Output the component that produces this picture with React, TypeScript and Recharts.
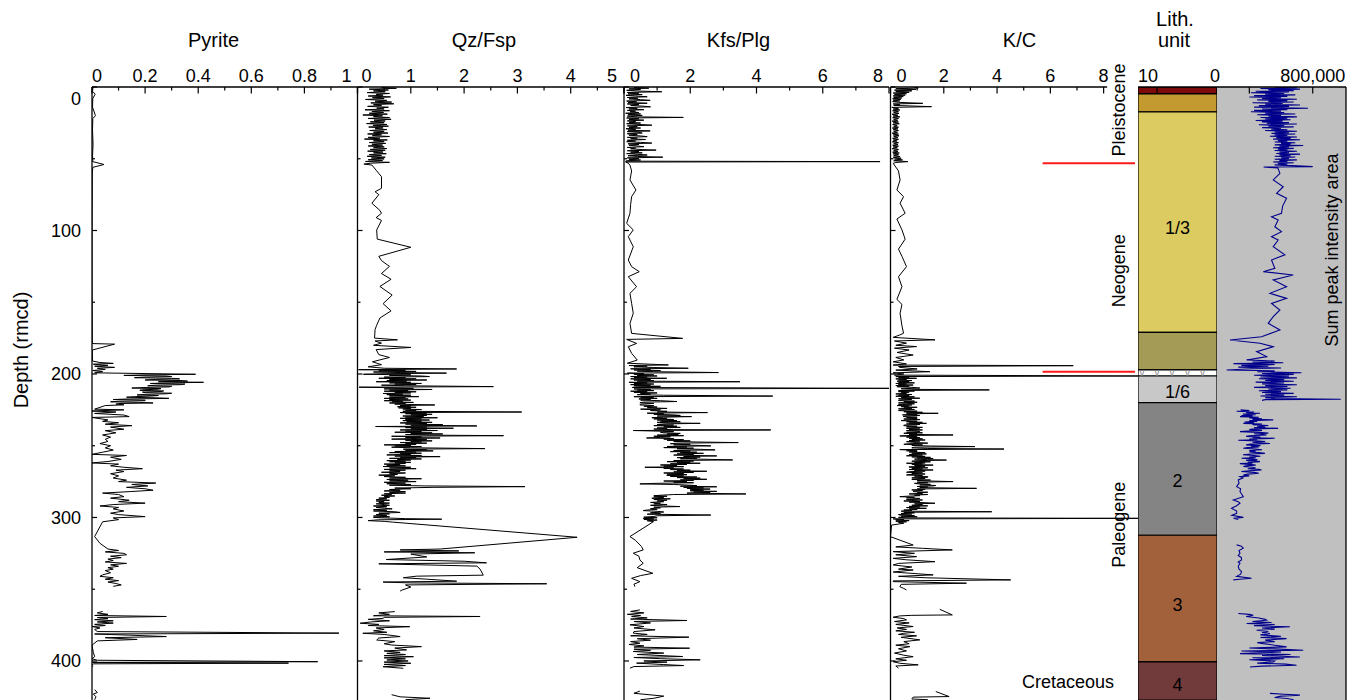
import React from 'react';
import { LineChart, Line, XAxis, YAxis, ReferenceArea, ReferenceLine, ReferenceDot } from 'recharts';

type Pair = [number, number] | null;

const CHART_W = 1360;
const CHART_H = 700;
const PLOT_TOP = 87;
const AXIS_H = 30;
const DEPTH_DOMAIN: [number, number] = [0, 427.2];
const FONT = '"Liberation Sans", Arial, Helvetica, sans-serif';

// ---------- axes ----------
const depthTicks = [0, 50, 100, 150, 200, 250, 300, 350, 400];
const depthTickLabels = ['0', '', '100', '', '200', '', '300', '', '400'];

const pyriteTicks = [0, 0.1, 0.2, 0.3, 0.4, 0.5, 0.6, 0.7, 0.8, 0.9, 1];
const pyriteTickLabels = ['0', '', '0.2', '', '0.4', '', '0.6', '', '0.8', '', '1'];
const qzTicks = [0, 0.5, 1, 1.5, 2, 2.5, 3, 3.5, 4, 4.5, 5];
const qzTickLabels = ['0', '', '1', '', '2', '', '3', '', '4', '', '5'];
const kfsTicks = [0, 1, 2, 3, 4, 5, 6, 7, 8];
const kfsTickLabels = ['0', '', '2', '', '4', '', '6', '', '8'];
const kcTicks = [0, 1, 2, 3, 4, 5, 6, 7, 8];
const kcTickLabels = ['0', '', '2', '', '4', '', '6', '', '8'];
const lithTicks = [10, 0];
const lithTickLabels = ['10', '0'];
const sumTicks = [400000, 800000];
const sumTickLabels = ['', '800,000'];

// ---------- series (depth rmcd, value); null = gap in the record ----------
const pyrite: Pair[] = [
  [0, 0.004], [3, 0.002], [5, 0.012], [8, 0.003], [14, 0.002], [20, 0.013], [22, 0.003], [30, 0.002], [40, 0.004], [48, 0.002], [52, 0.003], [54, 0.045], [56, 0.003], [60, 0.001], [100, 0], [140, 0], [176, 0.001],
  [178.8, 0.001], [179.2, 0.085], [183.3, 0.001], [191, 0.002],
  [192, 0.03], [192.6, 0.08], [193.2, 0.005], [194, 0.06], [194.6, 0.01], [195.4, 0.085], [196, 0.02], [196.8, 0.05], [197.6, 0.003], [198.4, 0.04], [199.2, 0.01],
  [200.2, 0.39], [200.6, 0.2], [201, 0.12], [201.4, 0.28], [201.8, 0.3], [202.2, 0.2], [202.6, 0.16], [203, 0.3], [203.4, 0.33], [203.8, 0.24], [204.2, 0.2], [204.6, 0.34], [205, 0.36], [205.4, 0.25], [205.8, 0.42], [206.2, 0.3], [206.6, 0.22], [207, 0.35], [207.4, 0.34], [207.8, 0.24], [208.2, 0.21], [208.6, 0.3], [209, 0.29], [209.4, 0.2], [209.8, 0.15], [210.2, 0.26], [210.6, 0.25], [211, 0.19], [211.4, 0.18], [211.8, 0.27], [212.2, 0.26], [212.6, 0.19], [213, 0.2], [213.4, 0.3], [213.8, 0.28], [214.2, 0.2], [214.6, 0.17], [215, 0.25], [215.4, 0.22], [215.8, 0.16], [216.2, 0.13], [216.6, 0.24], [217, 0.29], [217.4, 0.14], [217.8, 0.08], [218.2, 0.2], [218.6, 0.2], [219, 0.1], [219.4, 0.07], [219.8, 0.18], [220.2, 0.23], [220.6, 0.1], [221, 0.09], [221.5, 0.12], [222, 0.05],
  [224.5, 0.01], [225, 0.12], [225.8, 0.0], [226.5, 0.09], [227.5, 0.01], [228.6, 0.12], [229.7, 0.14], [230.3, 0.0],
  [232, 0.06], [233, 0.04], [234, 0.1], [235, 0.05], [236, 0.15], [237, 0.07], [238.5, 0.12], [239.5, 0.05], [241, 0.09], [242.5, 0.04], [244, 0.07], [245.5, 0.05], [247, 0.06], [248.5, 0.03], [250, 0.07], [251.5, 0.05], [253, 0.08], [254.5, 0.04],
  [256, 0.0], [256.8, 0.13], [258, 0.07], [259.5, 0.11], [261, 0.06], [262, 0.0], [262.8, 0.1], [264, 0.07], [265, 0.12], [266, 0.19], [267, 0.09], [268, 0.12], [269.5, 0.07], [271, 0.1], [272.5, 0.08], [274, 0.13], [275, 0.1], [276, 0.24], [277, 0.15], [278, 0.21], [279, 0.13], [280, 0.2], [281, 0.23], [282, 0.14], [283, 0.04], [284, 0.1], [285.5, 0.12], [286.5, 0.07], [288, 0.14], [289, 0.1], [290, 0.2], [291, 0.08], [292, 0.03], [293, 0.1], [294, 0.08], [295.5, 0.12], [297, 0.07], [298, 0.1], [299.4, 0.2], [300.3, 0.08], [301.5, 0.1], [303, 0.04],
  [313.3, 0.01], [318, 0.03], [322, 0.06], [323, 0.1], [324, 0.05], [325, 0.12], [326, 0.13], [327, 0.07], [328, 0.11], [329, 0.06], [330, 0.08], [331, 0.05], [332, 0.13], [333, 0.07], [334, 0.1], [335, 0.06], [336, 0.08], [337, 0.05], [338.5, 0.07], [340, 0.04], [341, 0.03], [342, 0.08], [343, 0.05], [344, 0.1], [345, 0.06], [346, 0.09], [347, 0.11], [348, 0.08],
  null,
  [365.5, 0.04], [366.5, 0.02], [367.5, 0.06], [368.3, 0.01], [369, 0.28], [369.7, 0.02], [370.5, 0.06], [371.2, 0.01], [372, 0.08], [372.8, 0.02], [373.6, 0.08], [374.5, 0.01], [375.3, 0.05], [376, 0.0], [377, 0.03], [378, 0.01], [379.5, 0.02], [380.6, 0.93], [381.2, 0.01], [382, 0.14], [383, 0.28], [383.8, 0.05], [385, 0.17], [386, 0.02], [389, 0.0], [391, 0.002], [394, 0.005], [397, 0.01], [398.5, 0.0], [399.5, 0.02], [400.5, 0.85], [401, 0.0], [401.5, 0.74], [402, 0.005], [403, 0.0], [404, 0.003],
  null,
  [420, 0.01], [422, 0.02], [423, 0.005], [425, 0.015], [427, 0.01],
];

const qzFsp: Pair[] = [
  [0.3, 0.45], [0.9, 0.73], [1.5, 0.22], [2.1, 0.58], [2.7, 0.3], [3.3, 0.52], [3.9, 0.18], [4.5, 0.6], [5.1, 0.35], [5.7, 0.48], [6.3, 0.2], [6.9, 0.62], [7.5, 0.28], [8.1, 0.5], [8.7, 0.15], [9.3, 0.55], [9.9, 0.33], [10.5, 0.64], [11.1, 0.25], [11.7, 0.68], [12.3, 0.3], [12.9, 0.45], [13.5, 0.19], [14.1, 0.58], [14.7, 0.36], [15.3, 0.5], [15.9, 0.14], [16.5, 0.6], [17.1, 0.27], [17.7, 0.49], [18.3, 0.22], [18.9, 0.56], [19.5, 0.1], [20.1, 0.47], [20.7, 0.3], [21.3, 0.6], [21.9, 0.2], [22.5, 0.63], [23.1, 0.31], [23.7, 0.52], [24.3, 0.24], [24.9, 0.5], [25.5, 0.17], [26.1, 0.55], [26.7, 0.29], [27.3, 0.58], [27.9, 0.21], [28.5, 0.48], [29.1, 0.33], [29.7, 0.55], [30.3, 0.23], [30.9, 0.5], [31.5, 0.3], [32.1, 0.57], [32.7, 0.19], [33.3, 0.45], [33.9, 0.28], [34.5, 0.6], [35.1, 0.2], [35.7, 0.42], [36.3, 0.13], [36.9, 0.56], [37.5, 0.3], [38.1, 0.5], [38.7, 0.22], [39.3, 0.53], [39.9, 0.27], [40.5, 0.47], [41.1, 0.2], [41.7, 0.5], [42.3, 0.3], [42.9, 0.55], [43.5, 0.24], [44.1, 0.52], [44.7, 0.19], [45.3, 0.48], [45.9, 0.3], [46.5, 0.54], [47.1, 0.22], [47.7, 0.45], [48.3, 0.18], [48.9, 0.52], [49.5, 0.26], [50.1, 0.5], [50.7, 0.2], [51.3, 0.47], [51.9, 0.15], [52.5, 0.6], [53.1, 0.25], [53.7, 0.12], [54.4, 0.27],
  [58, 0.35], [62.5, 0.45], [70.6, 0.45], [73, 0.33], [75, 0.4], [81, 0.27], [86, 0.42], [88, 0.45], [91, 0.35], [93, 0.45], [99.6, 0.36], [106, 0.37], [111.7, 1.0], [118, 0.4], [121, 0.45], [125, 0.6], [130, 0.45], [134, 0.63], [139, 0.42], [145, 0.65], [151, 0.48], [156, 0.63], [161, 0.42], [166, 0.36], [169, 0.33], [175, 0.32], [176.2, 0.75], [177, 0.33], [178.5, 0.45], [180, 0.3], [181.5, 1.0], [183, 0.35], [186.5, 0.4], [188.5, 0.6], [191.5, 0.28], [193.5, 0.45], [195, 0.2],
  [196, 0.5], [196.5, 1.86], [197, 0.02], [197.4, 0.9], [197.8, 0.4], [198.2, 1.1], [198.6, 0.3], [199, 0.8], [199.4, 1.67], [199.8, 0.5], [200.2, 0.11], [200.6, 1.0], [201, 0.6], [201.4, 1.2], [201.8, 1.35], [202.2, 0.5], [202.6, 0.9], [203, 0.4], [203.4, 1.1], [203.8, 0.6], [204.2, 1.3], [204.6, 0.55], [205, 0.92], [205.4, 0.35], [205.8, 1.0], [206.2, 0.6], [206.6, 1.2], [207, 0.7], [207.4, 1.1], [207.8, 0.45], [208.2, 0.9], [208.8, 2.55], [209.2, 0.03], [209.6, 0.7], [210, 1.05], [210.4, 0.5], [210.8, 1.4], [211.2, 0.6], [211.6, 0.95], [212, 0.5], [212.4, 1.1], [212.8, 0.7], [213.2, 1.0], [213.6, 0.48], [214, 0.85], [214.4, 0.55], [214.8, 1.0], [215.2, 0.6], [215.8, 1.15], [216.2, 0.6], [216.6, 0.9], [217, 0.5], [217.4, 0.95], [217.8, 0.6], [218.2, 1.0], [218.6, 0.5], [219, 0.85], [219.4, 0.65], [219.8, 1.05], [220.2, 0.6], [220.6, 0.9], [221, 0.7], [221.6, 1.45], [222, 0.8], [222.4, 1.0], [222.8, 0.75], [223.2, 1.1], [223.6, 0.77], [224, 1.0], [224.4, 0.85], [224.8, 1.2], [225.2, 0.9], [225.6, 1.1], [226, 0.85], [226.5, 3.08], [226.9, 0.8], [227.3, 1.3], [227.7, 0.9], [228.1, 1.4], [228.5, 1.0], [228.9, 1.3], [229.3, 0.85], [229.7, 1.24], [230.1, 0.9], [230.5, 1.5], [230.9, 0.8], [231.3, 1.2], [231.7, 0.9], [232.1, 1.35], [232.5, 0.85], [232.9, 1.2], [233.3, 0.92], [233.7, 1.4], [234.1, 0.8], [234.5, 1.3], [234.9, 0.9], [235.3, 1.6], [235.7, 1.0], [236.2, 2.24], [236.6, 0.34], [237, 1.3], [237.4, 0.9], [237.8, 1.8], [238.2, 1.0], [238.6, 1.3], [239, 0.8], [239.4, 1.5], [239.8, 0.9], [240.2, 1.2], [240.6, 0.7], [241, 1.4], [241.4, 1.0], [241.8, 1.6], [242.2, 0.9], [242.6, 1.3], [243, 2.74], [243.4, 0.64], [243.8, 1.2], [244.2, 0.9], [244.6, 1.55], [245, 1.0], [245.4, 0.64], [245.8, 1.3], [246.2, 0.9], [246.6, 1.4], [247, 1.0], [247.4, 1.2], [247.8, 0.8], [248.2, 1.3], [248.6, 0.9], [249, 1.1], [249.4, 0.5], [249.8, 1.0], [250.2, 0.7], [250.6, 1.2], [251, 0.64], [251.4, 1.0], [252, 2.39], [252.4, 0.86], [252.8, 1.3], [253.2, 0.9], [253.6, 1.42], [254, 0.7], [254.4, 1.1], [254.8, 0.6], [255.2, 1.2], [255.6, 0.8], [256, 1.0], [256.4, 0.55], [256.8, 1.2], [257.2, 0.7], [257.6, 1.55], [258, 0.8], [258.4, 1.1], [258.8, 0.6], [259.2, 1.2], [259.6, 0.75], [260, 1.0], [260.4, 0.55], [260.8, 0.9], [261.2, 0.6], [261.6, 1.0], [262, 0.7], [262.4, 0.9], [262.8, 0.5], [263.2, 0.8], [263.6, 0.55], [264, 0.9], [264.5, 0.48], [265, 1.0], [265.5, 0.6], [266, 1.1], [266.5, 0.5], [267, 0.9], [267.5, 0.6], [268, 0.8], [268.5, 0.45], [269, 0.9], [269.5, 0.6], [270, 0.75], [270.5, 0.4], [271, 0.7], [271.5, 0.5], [272, 0.9], [272.5, 0.6], [273, 1.2], [273.5, 0.55], [274, 0.95], [274.5, 0.6], [275, 1.1], [275.5, 0.5], [276, 0.9], [276.5, 0.55], [277, 1.0], [277.5, 0.6], [278, 1.25], [278.5, 3.14], [279, 1.42], [279.5, 0.7], [280, 1.0], [280.5, 0.6], [281, 0.8], [281.5, 0.5], [282, 0.9], [282.5, 0.6], [283, 0.9], [283.5, 0.5], [284, 0.64], [284.5, 0.45], [285, 0.7], [285.5, 0.5], [286, 0.6], [286.5, 0.4], [287, 0.55], [287.5, 0.35], [288, 0.6], [288.5, 0.35], [289, 0.5], [289.5, 0.4], [290, 0.6], [290.5, 0.35], [291, 0.5], [291.5, 0.6], [292, 0.3], [292.5, 0.55], [293, 0.35], [293.5, 0.5], [294, 0.65], [294.5, 0.3], [295, 0.55], [295.5, 0.3], [296, 0.7], [296.5, 0.8], [297, 0.4], [297.5, 0.6], [298, 0.35], [298.5, 0.55], [299, 0.3], [299.5, 0.6], [300, 0.3], [300.3, 0.5], [300.8, 0.9], [301.2, 1.58], [301.6, 0.4], [302.2, 0.2], [302.7, 0.5], [303.2, 0.65],
  [313.8, 4.12], [322, 1.55], [322.6, 0.8], [323.3, 1.9], [324, 0.5], [324.6, 2.2], [325.5, 1.0], [327.5, 1.3], [329.3, 0.54], [330.5, 2.0], [331.6, 2.42], [332.3, 0.4], [333.9, 2.24], [336, 2.3], [340.2, 2.36], [340.9, 1.11], [342, 0.86], [343, 1.3], [344.4, 1.86], [345, 0.48], [345.6, 1.0], [346.2, 3.55], [347, 0.9], [348.5, 1.0], [350.5, 0.84], [351.3, 0.8],
  null,
  [365.6, 0.7], [366.5, 0.4], [367.5, 0.6], [368.5, 0.3], [369, 2.3], [369.6, 0.5], [370.3, 0.48], [371, 0.2], [372, 0.6], [372.8, 0.25], [373.7, 0.05], [374.5, 0.4], [375.3, 0.2], [376.1, 0.98], [377, 0.35], [378, 0.5], [379, 0.3], [380, 0.55], [380.7, 0.1], [381.5, 0.5], [383, 0.8], [384, 0.4], [385.4, 0.36], [386.5, 0.7], [388, 0.5], [388.9, 0.64], [390, 1.2], [391, 0.7], [392.3, 0.92], [393, 0.5], [394, 0.8], [394.7, 0.55], [395.5, 0.9], [396.3, 0.5], [397, 1.05], [397.8, 0.5], [398.5, 0.9], [399.3, 0.55], [400, 0.95], [400.8, 0.5], [401.6, 1.0], [402.4, 0.5], [403.2, 0.9], [404, 0.48], [405.1, 0.86],
  null,
  [423.5, 0.64], [425, 0.8], [426, 1.36], [427, 0.9],
];

const kfsPlg: Pair[] = [
  [0.3, 0.3], [0.8, 0.75], [1.3, 0.15], [1.8, 0.5], [2.3, 0.08], [2.8, 0.4], [3.3, 1.14], [3.8, 0.1], [4.3, 0.45], [4.8, 0.12], [5.3, 0.55], [5.8, 0.06], [6.3, 0.35], [6.8, 0.7], [7.3, 0.1], [7.8, 0.42], [8.3, 0.15], [8.8, 0.5], [9.3, 0.79], [9.8, 0.08], [10.3, 0.38], [10.8, 0.12], [11.3, 0.7], [11.8, 0.1], [12.3, 0.45], [12.8, 0.2], [13.3, 0.55], [13.8, 0.8], [14.3, 0.06], [14.8, 0.4], [15.3, 0.15], [15.8, 0.6], [16.3, 0.1], [16.8, 0.35], [17.3, 0.18], [17.8, 0.45], [18.3, 0.05], [18.8, 0.5], [19.3, 0.12], [19.8, 0.55], [20.3, 0.1], [20.8, 0.4], [21.2, 1.79], [21.6, 0.08], [22.1, 0.45], [22.6, 0.15], [23.1, 0.6], [23.6, 0.1], [24.1, 0.35], [24.6, 0.15], [25.1, 0.5], [25.6, 0.08], [26.1, 0.45], [26.6, 0.84], [27.1, 0.1], [27.6, 0.4], [28.1, 0.15], [28.6, 0.5], [29.1, 0.06], [29.6, 0.35], [30.1, 0.12], [30.6, 0.79], [31.1, 0.1], [31.6, 0.45], [32.1, 0.55], [32.6, 0.1], [33.1, 0.4], [33.6, 0.15], [34.1, 0.5], [34.6, 0.7], [35.1, 0.1], [35.6, 0.4], [36.1, 0.2], [36.6, 0.65], [37.1, 0.1], [37.6, 0.35], [38.1, 0.08], [38.6, 0.5], [39.1, 0.84], [39.6, 0.12], [40.1, 0.45], [40.6, 0.15], [41.1, 0.4], [41.6, 0.6], [42.1, 0.1], [42.6, 0.35], [43.1, 0.2], [43.6, 0.55], [44, 0.97], [44.4, 0.1], [44.9, 0.45], [45.4, 0.2], [45.9, 0.55], [46.4, 0.08], [46.9, 0.4], [47.4, 0.7], [47.9, 0.12], [48.4, 0.4], [48.9, 1.17], [49.4, 0.1], [49.9, 0.45], [50.4, 0.15], [50.9, 0.5], [51.4, 0.1], [51.7, 0.05], [52, 7.73], [52.3, 0.05], [53, 0.12], [54.4, 0.18],
  [58.5, 0.23], [64.8, 0.18], [71.8, 0.36], [76.4, 0.23], [82, 0.2], [88, 0.18], [95, 0.08], [99.6, 0.28], [104.3, 0.13], [111.3, 0.28], [120.6, 0.13], [125.2, 0.23], [128.7, 0.46], [132.2, 0.13], [139.2, 0.38], [143.8, 0.18], [150.8, 0.23], [157.7, 0.28], [164.7, 0.18], [171.7, 0.23], [175.2, 1.77], [175.9, 0.08], [178.7, 0.38], [181, 0.13], [185.6, 0.23], [190.3, 0.4],
  [192.5, 0.1], [193, 0.6], [193.7, 1.34], [194.1, 0.15], [194.5, 0.7], [195, 0.3], [195.5, 0.9], [196, 1.94], [196.4, 0.2], [196.8, 0.8], [197.2, 0.3], [197.6, 1.1], [198, 0.4], [198.4, 0.9], [199, 2.85], [199.4, 0.1], [199.8, 0.6], [200.2, 0.3], [200.6, 0.9], [201, 0.4], [201.4, 1.0], [201.8, 0.2], [202.2, 0.7], [202.6, 0.3], [203, 1.29], [203.4, 0.2], [203.8, 0.8], [204.2, 0.3], [204.6, 0.9], [205, 0.4], [205.4, 3.5], [205.8, 0.15], [206.2, 0.7], [206.6, 0.3], [207, 0.9], [207.4, 0.2], [207.8, 0.8], [208.2, 0.3], [208.6, 1.1], [209, 0.4], [209.4, 0.25], [210, 8.0], [210.4, 0.3], [210.8, 0.8], [211.2, 0.4], [211.6, 0.9], [212, 0.2], [212.4, 0.7], [212.8, 0.3], [213.2, 1.0], [213.6, 0.5], [214, 0.8], [214.4, 0.4], [214.8, 1.2], [215.4, 4.49], [215.8, 0.3], [216.2, 0.9], [216.6, 0.5], [217, 1.0], [217.4, 0.45], [217.8, 0.8], [218.2, 0.5], [218.6, 1.1], [219.2, 1.6], [219.6, 0.6], [220, 0.48], [220.5, 0.9], [221, 0.5], [221.6, 0.48], [222, 0.9], [222.5, 0.6], [223, 1.0], [223.5, 0.7], [224, 1.3], [224.5, 0.5], [225, 1.1], [225.5, 0.8], [226, 1.3], [226.5, 1.0], [226.9, 2.52], [227.3, 0.7], [227.7, 1.2], [228.1, 0.9], [228.5, 1.5], [228.9, 1.7], [229.3, 1.0], [229.7, 2.04], [230.1, 1.2], [230.5, 0.84], [230.9, 1.3], [231.3, 0.9], [231.7, 1.5], [232.1, 1.0], [232.5, 1.6], [232.9, 1.1], [233.3, 1.7], [233.7, 1.0], [234.1, 1.4], [234.4, 2.3], [234.8, 1.2], [235.2, 1.0], [235.6, 1.5], [236, 0.9], [236.4, 1.6], [236.8, 1.2], [237.2, 1.7], [237.6, 1.0], [238, 1.3], [238.4, 0.9], [238.8, 1.5], [239, 4.43], [239.4, 0.28], [239.8, 1.0], [240.2, 1.5], [240.6, 1.1], [241, 1.2], [241.4, 1.7], [241.8, 1.3], [242.2, 1.64], [242.6, 1.0], [243, 1.8], [243.4, 0.9], [243.8, 1.4], [244.2, 1.1], [244.6, 0.68], [245, 1.5], [245.4, 1.2], [245.8, 1.8], [246.2, 1.3], [246.6, 2.0], [247, 1.5], [247.4, 2.2], [247.8, 3.45], [248.2, 1.6], [248.6, 1.4], [249, 2.0], [249.4, 1.5], [249.8, 2.3], [250.1, 2.62], [250.5, 1.3], [250.9, 1.9], [251.3, 1.2], [251.7, 2.1], [252.1, 1.6], [252.5, 2.3], [252.9, 2.75], [253.3, 1.5], [253.7, 2.0], [254.1, 1.4], [254.5, 2.2], [254.9, 1.7], [255.3, 2.4], [255.7, 1.6], [256.1, 2.1], [256.5, 1.5], [257.1, 2.8], [257.5, 1.8], [257.9, 2.3], [258.3, 1.6], [258.7, 2.2], [259.1, 1.7], [259.5, 2.6], [259.9, 3.28], [260.3, 1.5], [260.7, 2.1], [261.1, 1.3], [261.5, 2.0], [261.9, 1.6], [262.2, 2.3], [262.6, 1.4], [263, 1.9], [263.4, 1.1], [263.8, 1.6], [264.2, 1.2], [264.6, 1.8], [265, 0.63], [265.4, 1.5], [265.8, 1.2], [266.2, 1.8], [266.6, 1.4], [267, 2.0], [267.4, 1.6], [267.8, 2.5], [268.2, 1.5], [268.6, 2.1], [269, 1.2], [269.4, 1.8], [269.8, 1.3], [270.2, 1.9], [270.6, 1.29], [271, 1.8], [271.4, 1.4], [271.8, 2.2], [272.2, 1.6], [272.6, 2.3], [273, 1.8], [273.4, 2.5], [273.8, 1.7], [274.2, 2.1], [274.6, 1.2], [275, 1.9], [275.4, 1.5], [275.8, 2.1], [276.2, 1.0], [276.6, 0.48], [277, 1.5], [277.4, 1.9], [277.8, 2.2], [278.2, 1.7], [278.6, 2.8], [279, 1.8], [279.4, 2.4], [279.8, 1.9], [280.2, 2.6], [280.6, 2.0], [281, 2.4], [281.4, 2.0], [281.8, 2.8], [282.2, 2.1], [282.6, 2.6], [283, 1.9], [283.6, 3.68], [284, 1.5], [284.4, 1.2], [284.8, 0.9], [285.2, 1.3], [285.6, 0.9], [286, 1.2], [286.6, 0.84], [287, 1.4], [287.5, 0.9], [288, 1.3], [288.5, 1.0], [289, 1.2], [289.5, 0.8], [290, 1.1], [290.5, 0.9], [291, 1.3], [291.5, 0.8], [292, 1.2], [292.4, 1.69], [292.8, 0.9], [293.3, 1.1], [293.8, 0.8], [294.3, 1.0], [294.8, 0.7], [295.2, 0.58], [295.7, 1.0], [296.2, 1.2], [296.7, 0.8], [297.2, 1.1], [297.7, 0.7], [298.3, 2.62], [298.8, 1.0], [299.3, 0.9], [299.8, 0.6], [300.2, 1.0], [300.6, 0.58], [301, 0.9], [301.4, 0.6], [301.8, 1.0], [302.3, 0.7], [302.9, 0.89],
  [313.3, 0.18], [316, 0.35], [320.3, 0.53], [322.6, 0.58], [324.9, 0.28], [327, 0.45], [329.6, 0.48], [331.9, 0.58], [335, 0.4], [338.9, 0.87], [340.5, 0.5], [342.4, 0.23], [344.7, 0.48], [346.5, 0.3], [348.2, 0.33],
  null,
  [364.4, 0.48], [365.5, 0.2], [366.5, 0.6], [367.5, 0.1], [368.3, 0.5], [369, 0.23], [370, 0.7], [370.8, 0.2], [371.8, 1.9], [372.5, 0.3], [373.5, 0.8], [374.8, 0.18], [376, 0.6], [377, 0.3], [378.3, 0.94], [379.5, 0.3], [380.6, 0.28], [381.5, 0.7], [382.5, 0.2], [383.4, 1.96], [384.5, 0.4], [385.5, 0.8], [386.5, 0.2], [387.6, 0.48], [388.5, 0.15], [389.5, 0.6], [390.3, 0.3], [391.1, 1.98], [391.8, 0.3], [392.6, 0.8], [393.4, 0.28], [394.5, 1.2], [395.5, 0.4], [396.9, 1.77], [397.6, 0.3], [398.4, 1.1], [399.2, 2.3], [400, 0.6], [400.8, 1.3], [401.5, 0.38], [402.5, 1.2], [403.2, 1.8], [403.9, 0.3], [405, 0.18],
  null,
  [421, 0.48], [422.5, 0.3], [424.5, 1.2], [426, 0.9], [427, 0.5],
];

const kc: Pair[] = [
  [0.2, 0.9], [0.7, 1.04], [1.2, 0.2], [1.7, 0.95], [2.2, 0.15], [2.7, 0.8], [3.2, 0.2], [3.7, 0.7], [4.2, 0.1], [4.7, 0.6], [5.2, 0.15], [5.7, 0.55], [6.2, 0.1], [6.7, 0.48], [7.2, 0.12], [7.7, 0.42], [8.2, 0.08], [8.7, 0.38], [9.2, 0.1], [9.7, 0.35], [10.2, 0.08], [10.7, 0.3], [11.4, 1.21], [11.8, 0.1], [12.3, 0.35], [12.8, 0.12], [13.7, 1.54], [14.2, 0.05], [14.8, 0.3], [15.4, 0.1], [16, 0.35], [16.6, 0.08], [17.2, 0.3], [17.8, 0.12], [18.4, 0.32], [19, 0.06], [19.6, 0.28], [20.2, 0.1], [20.8, 0.35], [21.4, 0.08], [22, 0.3], [22.6, 0.12], [23.2, 0.27], [23.8, 0.06], [24.4, 0.3], [25, 0.1], [25.6, 0.33], [26.2, 0.08], [26.8, 0.25], [27.4, 0.12], [28, 0.3], [28.6, 0.07], [29.2, 0.28], [29.8, 0.1], [30.4, 0.3], [31, 0.12], [31.6, 0.26], [32.2, 0.06], [32.8, 0.3], [33.4, 0.1], [34, 0.32], [34.6, 0.12], [35.2, 0.27], [35.8, 0.08], [36.4, 0.3], [37, 0.1], [37.6, 0.25], [38.2, 0.07], [38.8, 0.3], [39.4, 0.12], [40, 0.28], [40.6, 0.08], [41.2, 0.3], [41.8, 0.1], [42.4, 0.26], [43, 0.06], [43.6, 0.3], [44.2, 0.12], [44.8, 0.28], [45.4, 0.08], [46, 0.33], [46.6, 0.1], [47.2, 0.3], [47.8, 0.12], [48.4, 0.35], [49, 0.1], [49.6, 0.4], [50.2, 0.15], [50.8, 0.45], [51.4, 0.12], [52, 0.65], [52.6, 0.2], [53.2, 0.1],
  [58.5, 0.3], [64.8, 0.36], [71.8, 0.24], [76.4, 0.49], [81, 0.36], [88, 0.55], [92, 0.24], [99.6, 0.43], [106, 0.55], [113, 0.3], [118, 0.43], [125.2, 0.6], [132.2, 0.3], [139.2, 0.43], [148, 0.24], [151.5, 0.43], [157.7, 0.36], [166.5, 0.43], [171.6, 0.49],
  [172.8, 0.35], [174.5, 0.1], [176.2, 1.67], [177, 0.15], [178.5, 0.6], [180, 0.2], [180.9, 0.98], [182, 0.15], [183.3, 0.7], [185, 0.25], [186.8, 0.85], [188.5, 0.2], [190.2, 0.5], [191.5, 0.1], [193, 0.6], [193.8, 0.1], [194.2, 6.86], [194.8, 0.3], [195.4, 0.35], [196.5, 1.0], [197.3, 0.2], [198.4, 1.48], [199.2, 0.1], [200, 0.5], [200.8, 0.15],
  [201.4, 9.6], [201.8, 0.2], [202.2, 0.7], [202.6, 0.3], [203, 0.98], [203.4, 0.2], [203.8, 0.6], [204.2, 0.3], [204.6, 0.8], [205, 0.25], [205.3, 0.7], [205.8, 0.3], [206.2, 0.9], [206.6, 0.2], [207, 0.6], [207.4, 0.3], [207.7, 0.85], [208.1, 0.2], [208.5, 0.7], [208.9, 0.25], [209.3, 0.8], [209.8, 1.1], [210.3, 0.4], [210.7, 0.8], [211.1, 3.71], [211.5, 0.3], [211.9, 0.9], [212.3, 0.3], [212.7, 0.7], [213.1, 0.4], [213.5, 0.6], [213.9, 0.2], [214.3, 0.8], [214.7, 0.3], [215.1, 0.7], [215.5, 0.2], [215.9, 0.9], [216.3, 0.4], [216.9, 1.1], [217.3, 0.3], [217.7, 0.8], [218.1, 0.4], [218.5, 0.3], [218.9, 0.9], [219.3, 0.5], [219.7, 1.0], [220.1, 0.3], [220.4, 0.6], [220.8, 0.9], [221.2, 0.3], [221.6, 0.8], [222, 0.25], [222.4, 0.7], [222.8, 0.4], [223.2, 1.0], [223.6, 0.5], [223.9, 0.8], [224.3, 0.3], [224.7, 0.9], [225.1, 0.4], [225.5, 0.3], [225.9, 1.0], [226.3, 0.5], [226.7, 1.2], [227.1, 0.6], [227.4, 1.79], [227.8, 0.6], [228.2, 1.0], [228.5, 0.45], [228.9, 1.1], [229.3, 0.6], [229.7, 0.48], [230.1, 1.0], [230.5, 0.6], [231, 1.0], [231.4, 0.5], [231.8, 1.1], [232.2, 0.6], [232.5, 0.4], [232.9, 1.0], [233.3, 0.6], [233.7, 1.2], [234.1, 0.7], [234.4, 1.35], [234.8, 0.6], [235.2, 1.1], [235.6, 0.5], [236, 0.5], [236.4, 1.0], [236.8, 0.6], [237.2, 1.2], [237.6, 0.7], [237.9, 0.6], [238.3, 1.1], [238.7, 0.7], [239, 1.2], [239.4, 0.6], [239.8, 1.0], [240.2, 1.1], [240.6, 0.6], [241, 1.2], [241.3, 0.5], [241.7, 1.0], [242.1, 0.7], [242.5, 2.35], [242.9, 0.6], [243.2, 0.35], [243.6, 1.0], [244, 0.6], [244.4, 1.1], [244.8, 0.7], [245.2, 1.2], [245.6, 0.8], [246, 1.3], [246.4, 0.7], [246.8, 1.1], [247.2, 0.6], [247.8, 0.98], [248.2, 1.4], [248.6, 0.7], [249, 0.5], [249.4, 1.2], [249.8, 0.8], [250.2, 1.5], [250.6, 3.17], [251, 0.9], [251.5, 0.8], [251.9, 1.4], [252.3, 4.26], [252.7, 0.35], [253.1, 1.0], [253.5, 0.6], [254, 1.0], [254.4, 0.7], [254.8, 1.3], [255.2, 0.8], [255.7, 1.35], [256.1, 0.7], [256.5, 1.2], [257, 0.6], [257.4, 1.3], [257.8, 0.8], [258.1, 1.5], [258.5, 1.0], [258.9, 1.6], [259.3, 0.9], [259.7, 1.4], [260, 2.1], [260.4, 1.0], [260.8, 0.8], [261.2, 1.5], [261.6, 0.9], [262, 1.3], [262.2, 0.6], [262.6, 1.2], [263, 0.8], [263.5, 1.6], [263.9, 0.9], [264.3, 1.3], [264.7, 0.7], [265, 0.7], [265.4, 1.4], [265.8, 0.8], [266.2, 1.2], [266.6, 0.7], [266.9, 1.6], [267.3, 0.9], [267.7, 1.3], [268.1, 0.7], [268.5, 0.6], [268.9, 1.2], [269.3, 0.8], [269.7, 1.3], [270.1, 0.7], [270.4, 0.6], [270.8, 1.2], [271.2, 0.9], [271.6, 1.4], [272, 1.4], [272.4, 0.8], [272.8, 1.3], [273.2, 0.9], [273.5, 0.8], [273.9, 1.5], [274.3, 1.0], [274.7, 1.7], [275, 2.35], [275.4, 1.0], [275.8, 1.4], [276.2, 0.9], [276.5, 1.0], [276.9, 1.5], [277.3, 1.1], [277.7, 1.7], [278, 1.6], [278.4, 1.0], [278.8, 1.4], [279.2, 1.1], [279.7, 3.23], [280.1, 1.0], [280.5, 1.3], [280.8, 0.8], [281.2, 1.2], [281.6, 0.9], [282, 0.85], [282.4, 1.4], [282.8, 1.0], [283.2, 1.2], [283.6, 0.7], [284, 1.4], [284.4, 0.9], [284.8, 1.1], [285.2, 0.6], [285.5, 0.35], [285.9, 0.9], [286.3, 0.6], [286.7, 1.1], [287, 1.0], [287.4, 0.6], [287.8, 1.2], [288.2, 0.8], [288.5, 0.5], [288.9, 1.1], [289.3, 0.7], [289.7, 1.3], [290.1, 1.67], [290.5, 0.9], [290.9, 1.2], [291.5, 0.8], [291.9, 1.4], [292.3, 0.7], [292.7, 1.1], [293.1, 0.6], [293.6, 1.35], [294, 0.7], [294.4, 1.0], [294.8, 0.5], [295.2, 0.8], [295.6, 0.4], [296, 3.8], [296.4, 0.5], [296.8, 0.9], [297.2, 0.4], [297.6, 0.8], [298, 0.3], [298.3, 0.35], [298.7, 0.9], [299.1, 0.4], [299.5, 1.0], [299.9, 0.3], [300.3, 0.6], [300.6, 9.6], [301, 0.1], [301.4, 0.5], [301.8, 0.2], [302.2, 0.7], [302.6, 0.2], [303, 0.6], [303.5, 0.3], [304, 0.5], [305.3, 0.04],
  [313.4, 0.0], [319.2, 0.85], [320.5, 0.2], [321.5, 1.2], [322.6, 2.32], [323.8, 0.1], [325, 0.9], [326, 0.2], [327.3, 0.98], [328.5, 0.1], [329.5, 0.6], [330.8, 1.67], [332, 0.3], [333.1, 0.1], [334.5, 0.8], [336, 0.3], [336.6, 0.85], [338, 0.1], [340, 1.6], [341, 0.3], [342, 1.3], [343.5, 4.51], [344.2, 0.1], [344.7, 0.1], [345.8, 2.85], [346.6, 0.4], [348.2, 0.35], [349.5, 0.5], [350.5, 0.6],
  null,
  [364, 1.85], [367.9, 2.32], [368.2, 0.8], [368.6, 0.35], [369.5, 0.1], [370.5, 0.5], [371.4, 0.6], [372.5, 0.15], [373.5, 0.7], [374.5, 0.2], [376, 0.85], [377, 0.25], [378, 0.6], [379, 0.2], [380, 0.9], [380.7, 0.5], [381.5, 0.3], [382.5, 0.98], [383.5, 0.4], [385.3, 1.1], [386.5, 0.5], [388, 0.7], [389, 0.2], [390, 0.73], [391.5, 0.3], [393, 0.6], [394.5, 0.15], [396, 0.5], [397, 0.85], [398.5, 0.2], [399.5, 0.6], [400.5, 0.1], [401.6, 0.35], [402.7, 1.04], [403.5, 0.2], [405, 0.3],
  null,
  [421.3, 1.7], [424.8, 2.2], [425.2, 0.85], [426.5, 0.8], [427, 1.4],
];

const sumPeak: Pair[] = [
  [0, 560e3], [0.5, 700e3], [1, 470e3], [1.5, 720e3], [2, 520e3], [2.5, 680e3], [3, 440e3], [3.5, 650e3], [4, 410e3], [4.5, 620e3], [5, 500e3], [5.5, 690e3], [6, 430e3], [6.5, 640e3], [7, 400e3], [7.5, 600e3], [8, 480e3], [8.5, 700e3], [9, 450e3], [9.5, 640e3], [10, 520e3], [10.5, 680e3], [11, 420e3], [11.5, 610e3], [12, 500e3], [12.5, 720e3], [13, 460e3], [13.5, 650e3], [14, 430e3], [14.8, 770e3], [15.3, 480e3], [15.8, 640e3], [16.3, 430e3], [16.8, 600e3], [17.3, 410e3], [17.8, 620e3], [18.3, 500e3], [18.8, 690e3], [19.3, 450e3], [19.8, 600e3], [20.3, 520e3], [20.8, 700e3], [21.3, 470e3], [21.8, 640e3], [22.3, 500e3], [22.8, 660e3], [23.3, 440e3], [23.8, 610e3], [24.3, 480e3], [24.8, 650e3], [25.3, 510e3], [25.8, 700e3], [26.3, 460e3], [26.8, 620e3], [27.3, 520e3], [27.8, 680e3], [28.3, 480e3], [28.8, 600e3], [29.3, 540e3], [29.8, 640e3], [30.3, 500e3], [30.8, 700e3], [31.3, 560e3], [31.8, 650e3], [32.3, 540e3], [32.8, 690e3], [33.3, 560e3], [33.8, 640e3], [34.3, 530e3], [34.8, 700e3], [35.3, 570e3], [35.8, 660e3], [36.3, 550e3], [36.8, 720e3], [37.3, 580e3], [37.8, 640e3], [38.3, 560e3], [38.8, 690e3], [39.3, 600e3], [39.8, 660e3], [40.3, 560e3], [40.8, 740e3], [41.3, 590e3], [41.8, 650e3], [42.3, 550e3], [42.8, 680e3], [43.3, 580e3], [43.8, 640e3], [44.3, 560e3], [44.8, 700e3], [45.3, 590e3], [45.8, 650e3], [46.3, 570e3], [46.8, 720e3], [47.3, 590e3], [47.8, 660e3], [48.3, 560e3], [48.8, 690e3], [49.3, 600e3], [49.8, 650e3], [50.3, 560e3], [50.8, 700e3], [51.3, 590e3], [51.8, 640e3], [52.3, 550e3], [52.8, 680e3], [53.3, 580e3], [53.8, 640e3], [54.3, 560e3], [55, 700e3], [55.5, 800e3], [55.8, 490e3], [56.5, 580e3],
  [60.2, 593e3], [64.8, 551e3], [69.5, 614e3], [74.1, 572e3], [77.6, 635e3], [83, 610e3], [88, 603e3], [90.4, 540e3], [92.7, 582e3], [97.4, 561e3], [100.8, 603e3], [104.3, 540e3], [106.6, 582e3], [111.3, 551e3], [117, 624e3], [120.6, 540e3], [126.4, 561e3], [128.7, 488e3], [131, 677e3], [134.5, 551e3], [139.2, 635e3], [143.8, 530e3], [147.3, 635e3], [150.8, 540e3], [155.4, 593e3], [160, 551e3], [164.7, 519e3], [169.3, 593e3], [174, 477e3], [176.3, 278e3], [178.6, 467e3], [181, 551e3], [184.4, 446e3], [187.9, 509e3],
  [190.2, 383e3], [191, 560e3], [191.6, 420e3], [192.2, 614e3], [192.8, 300e3], [193.4, 560e3], [194, 350e3], [194.6, 520e3], [195.2, 330e3], [195.8, 600e3], [196.4, 420e3], [197.2, 257e3], [197.8, 560e3], [198.4, 450e3], [199.1, 729e3], [199.7, 480e3], [200.3, 680e3], [200.9, 430e3], [201.5, 650e3], [202.1, 470e3], [202.7, 700e3], [203.3, 460e3], [203.9, 620e3], [204.5, 500e3], [205.1, 680e3], [205.7, 440e3], [206.3, 620e3], [206.9, 480e3], [207.5, 700e3], [208.1, 500e3], [208.7, 640e3], [209.3, 430e3], [209.9, 660e3], [210.5, 520e3], [211.1, 640e3], [211.7, 460e3], [212.3, 600e3], [212.9, 480e3], [213.5, 680e3], [214.1, 500e3], [214.7, 620e3], [215.3, 470e3], [215.9, 700e3], [216.5, 500e3], [217.1, 560e3], [217.6, 977e3], [217.9, 500e3], [218.4, 480e3],
  null,
  [225, 345e3], [225.5, 400e3], [226, 320e3], [226.5, 430e3], [227, 380e3], [227.4, 467e3], [227.9, 360e3], [228.4, 440e3], [228.9, 350e3], [229.4, 420e3], [229.7, 341e3], [230.2, 460e3], [230.7, 400e3], [231.2, 480e3], [231.6, 420e3], [232, 551e3], [232.5, 400e3], [233, 450e3], [233.5, 370e3], [234, 430e3], [234.4, 362e3], [234.9, 480e3], [235.4, 420e3], [235.9, 520e3], [236.4, 450e3], [236.9, 500e3], [237.4, 430e3], [237.9, 582e3], [238.3, 420e3], [238.8, 400e3], [239.3, 480e3], [239.8, 390e3], [240.2, 341e3], [240.7, 460e3], [241.2, 520e3], [241.7, 430e3], [242.1, 480e3], [242.5, 509e3], [243, 400e3], [243.5, 380e3], [244, 470e3], [244.4, 420e3], [244.8, 560e3], [245.3, 400e3], [245.8, 450e3], [246.2, 330e3], [246.7, 460e3], [247.1, 500e3], [247.6, 420e3], [248, 470e3], [248.4, 530e3], [248.9, 410e3], [249.4, 380e3], [249.9, 470e3], [250.3, 410e3], [250.8, 460e3], [251.3, 390e3], [251.8, 362e3], [252.3, 440e3], [252.8, 480e3], [253.3, 400e3], [253.8, 440e3], [254.3, 400e3], [254.8, 460e3], [255.3, 498e3], [255.8, 410e3], [256.3, 360e3], [256.8, 430e3], [257.3, 470e3], [257.8, 400e3], [258.3, 440e3], [258.7, 351e3], [259.2, 420e3], [259.7, 450e3], [260.2, 380e3], [260.7, 440e3], [261.1, 467e3], [261.6, 390e3], [262.1, 420e3], [262.5, 340e3], [263, 400e3], [263.5, 440e3], [264, 380e3], [264.5, 362e3], [265, 420e3], [265.5, 440e3], [266, 390e3], [266.5, 460e3], [266.9, 477e3], [267.4, 400e3], [268, 350e3], [268.6, 430e3], [269.2, 460e3], [269.8, 390e3], [270.4, 362e3], [271, 400e3], [271.5, 341e3], [272.5, 360e3], [273.8, 330e3], [276, 335e3], [278.5, 320e3], [280, 345e3], [281.9, 341e3], [283.5, 350e3], [285.5, 362e3], [287.8, 299e3], [289, 330e3], [290.1, 341e3], [291.8, 320e3], [293.6, 288e3], [295.5, 320e3], [297.1, 320e3], [298.5, 290e3], [299.9, 362e3], [300.5, 300e3], [301.3, 330e3],
  null,
  [319.1, 320e3], [320, 350e3], [321.4, 362e3], [323, 335e3], [324.9, 341e3], [326.5, 330e3], [328, 350e3], [329.6, 351e3], [331, 330e3], [331.9, 341e3], [334, 330e3], [336, 335e3], [337.7, 351e3], [339.5, 345e3], [341, 320e3], [342.4, 414e3], [343, 340e3], [343.5, 299e3],
  null,
  [366.9, 330e3], [367.5, 400e3], [368.1, 425e3], [369, 380e3], [370, 460e3], [371, 500e3], [371.6, 509e3], [372.5, 420e3], [373.2, 540e3], [373.9, 383e3], [374.6, 560e3], [375.4, 430e3], [376.2, 656e3], [377, 480e3], [377.8, 560e3], [378.6, 446e3], [379.5, 520e3], [380.2, 480e3], [380.9, 530e3], [381.8, 470e3], [382.8, 600e3], [383.6, 470e3], [384.4, 635e3], [385.5, 500e3], [386.5, 560e3], [387.2, 450e3], [387.9, 488e3], [389, 560e3], [390.2, 635e3], [391, 400e3], [391.6, 560e3], [392.5, 740e3], [393, 350e3], [393.8, 600e3], [394.9, 341e3], [395.5, 660e3], [396.2, 480e3], [397.2, 719e3], [397.8, 420e3], [398.5, 620e3], [399.2, 400e3], [400, 560e3], [400.7, 551e3], [401.5, 450e3], [402.2, 630e3], [403, 698e3], [403.6, 480e3], [404.2, 404e3],
  null,
  [422.6, 530e3], [423.2, 620e3], [423.8, 719e3], [424.5, 600e3], [425.5, 560e3], [426.1, 640e3], [427, 680e3],
];

// ---------- lithology ----------
const lithTop = [0, 4.8, 17.3, 171, 197.2, 201.4, 220, 312.4, 400.7];
const lithBottom = [4.8, 17.3, 171, 197.2, 201.4, 220, 312.4, 400.7, 427.2];
const lithColor = ['#7d0a0a', '#c39a2f', '#dccb60', '#a49b56', '#ffffff', '#c8c8c8', '#848484', '#a2613b', '#723b3b'];
const lithLabelText = ['1/3', '1/6', '2', '3', '4'];
const lithLabelDepth = [98.3, 212.5, 274, 361, 416.5];
const ashMarkX = [12.5, 10, 7.5, 4.9, 2.4];
const ashMarkDepth = 198.6;

// ---------- epochs / markers ----------
const epochNames = ['Pleistocene', 'Neogene', 'Paleogene'];
const epochDepth = [16, 128, 305];
const cretaceousDepth = 414.6;
const redMarkerDepth = [53.2, 198.4];

// ---------- helpers ----------
type Row = { d: number; v: number };
function toSegments(pairs: Pair[]): Row[][] {
  const segs: Row[][] = [[]];
  pairs.forEach((p) => {
    if (p) segs[segs.length - 1].push({ d: p[0], v: p[1] });
    else segs.push([]);
  });
  return segs.filter((s) => s.length > 0);
}

const axisLineStyle = { stroke: '#000', strokeWidth: 1.3 };

function topTick(ticks: number[], labels: string[], nudges: Record<number, number>, allMajor = false) {
  return (props: any) => {
    const { x, payload } = props;
    const i = ticks.findIndex((t) => Math.abs(t - payload.value) < 1e-9);
    const label = i >= 0 ? labels[i] : '';
    const major = allMajor || label !== '';
    return (
      <g>
        <line x1={x} x2={x} y1={PLOT_TOP} y2={PLOT_TOP + (major ? 6.5 : 3.5)} stroke="#000" strokeWidth={1.2} />
        {label !== '' && (
          <text x={x + (nudges[i] || 0)} y={81.5} textAnchor="middle" fontSize={18} fontFamily={FONT} fill="#000">
            {label}
          </text>
        )}
      </g>
    );
  };
}

function depthTick(plotLeft: number, withLabels: boolean) {
  return (props: any) => {
    const { y, payload } = props;
    const i = depthTicks.indexOf(payload.value);
    const label = i >= 0 ? depthTickLabels[i] : '';
    const major = label !== '';
    return (
      <g>
        <line x1={plotLeft} x2={plotLeft + (major ? 5 : 3)} y1={y} y2={y} stroke="#000" strokeWidth={1.2} />
        {withLabels && major && (
          <text x={81} y={y + (i === 0 ? 11.5 : 0)} dy="0.35em" textAnchor="end" fontSize={18} fontFamily={FONT} fill="#000">
            {label}
          </text>
        )}
      </g>
    );
  };
}

const txt = { fontSize: 20, fontFamily: FONT, fill: '#000' };

function titleContent(lines: { text: string; x: number; y: number }[]) {
  return () => (
    <g>
      {lines.map((l) => (
        <text key={l.text} x={l.x} y={l.y} textAnchor="middle" {...txt}>
          {l.text}
        </text>
      ))}
    </g>
  );
}

const layerStyle: React.CSSProperties = { position: 'absolute', left: 0, top: 0 };

function marginFor(left: number, right: number, yW: number) {
  return { top: PLOT_TOP - AXIS_H, right: CHART_W - right, bottom: 0, left: left - yW };
}

function seriesLines(segs: Row[][], stroke: string, width: number) {
  return segs.map((s, i) => (
    <Line key={'s' + i} data={s} dataKey="v" stroke={stroke} strokeWidth={width} dot={false} activeDot={false}
      isAnimationActive={false} connectNulls={false} />
  ));
}

// panel x extents (pixels)
const P1 = [92, 357.5];
const P2 = [357.5, 624];
const P3 = [624, 889];
const P4 = [890.5, 1138];
const P5 = [1138, 1217];
const P6 = [1217, 1346];
const Y_W = 30;

export default function App() {
  const pySegs = toSegments(pyrite);
  const qzSegs = toSegments(qzFsp);
  const kfsSegs = toSegments(kfsPlg);
  const kcSegs = toSegments(kc);
  const sumSegs = toSegments(sumPeak);
  const lithRows = lithTop.map((d) => ({ d, v: 0 }));

  return (
    <div style={{ position: 'absolute', left: 0, top: 0, width: CHART_W, height: CHART_H, background: '#fff', overflow: 'hidden', fontFamily: FONT }}>
      {/* Pyrite */}
      <div style={layerStyle}>
        <LineChart width={CHART_W} height={CHART_H} data={pySegs.flat()} layout="vertical" margin={marginFor(P1[0], P1[1], P1[0])}>
          <XAxis type="number" orientation="top" domain={[0, 1]} ticks={pyriteTicks} interval={0} allowDataOverflow height={AXIS_H}
            tickLine={false} tickSize={0} tickMargin={0} axisLine={axisLineStyle}
            tick={topTick(pyriteTicks, pyriteTickLabels, { 0: 5, 10: -11 })}
            label={{ content: titleContent([{ text: 'Pyrite', x: 213.5, y: 47 }]) }} />
          <YAxis type="number" dataKey="d" domain={DEPTH_DOMAIN} allowDataOverflow ticks={depthTicks} interval={0} width={P1[0]}
            tickLine={false} tickSize={0} tickMargin={0} axisLine={axisLineStyle} tick={depthTick(P1[0], true)}
            label={{ content: () => (
              <text x={21} y={350} dy="0.35em" textAnchor="middle" transform="rotate(-90 21 350)" {...txt}>Depth (rmcd)</text>
            ) }} />
          {seriesLines(pySegs, '#000', 1)}
        </LineChart>
      </div>

      {/* Qz/Fsp */}
      <div style={layerStyle}>
        <LineChart width={CHART_W} height={CHART_H} data={qzSegs.flat()} layout="vertical" margin={marginFor(P2[0], P2[1], Y_W)}>
          <XAxis type="number" orientation="top" domain={[0, 5]} ticks={qzTicks} interval={0} allowDataOverflow height={AXIS_H}
            tickLine={false} tickSize={0} tickMargin={0} axisLine={axisLineStyle}
            tick={topTick(qzTicks, qzTickLabels, { 0: 9, 10: -12 })}
            label={{ content: titleContent([{ text: 'Qz/Fsp', x: 484, y: 47 }]) }} />
          <YAxis type="number" dataKey="d" domain={DEPTH_DOMAIN} allowDataOverflow ticks={depthTicks} interval={0} width={Y_W}
            tickLine={false} tickSize={0} tickMargin={0} axisLine={axisLineStyle} tick={depthTick(P2[0], false)} />
          {seriesLines(qzSegs, '#000', 1)}
        </LineChart>
      </div>

      {/* Kfs/Plg */}
      <div style={layerStyle}>
        <LineChart width={CHART_W} height={CHART_H} data={kfsSegs.flat()} layout="vertical" margin={marginFor(P3[0], P3[1], Y_W)}>
          <XAxis type="number" orientation="top" domain={[0, 8]} ticks={kfsTicks} interval={0} allowDataOverflow height={AXIS_H}
            tickLine={false} tickSize={0} tickMargin={0} axisLine={axisLineStyle}
            tick={topTick(kfsTicks, kfsTickLabels, { 0: 11, 8: -11 })}
            label={{ content: titleContent([{ text: 'Kfs/Plg', x: 738.5, y: 47 }]) }} />
          <YAxis type="number" dataKey="d" domain={DEPTH_DOMAIN} allowDataOverflow ticks={depthTicks} interval={0} width={Y_W}
            tickLine={false} tickSize={0} tickMargin={0} axisLine={axisLineStyle} tick={depthTick(P3[0], false)} />
          {seriesLines(kfsSegs, '#000', 1)}
        </LineChart>
      </div>

      {/* K/C */}
      <div style={layerStyle}>
        <LineChart width={CHART_W} height={CHART_H} data={kcSegs.flat()} layout="vertical" margin={marginFor(P4[0], P4[1], Y_W)}>
          <XAxis type="number" orientation="top" domain={[0, 9.29]} ticks={kcTicks} interval={0} allowDataOverflow height={AXIS_H}
            tickLine={false} tickSize={0} tickMargin={0} axisLine={false}
            tick={topTick(kcTicks, kcTickLabels, { 0: 11 })}
            label={{ content: titleContent([{ text: 'K/C', x: 1019.5, y: 47 }]) }} />
          <YAxis type="number" dataKey="d" domain={DEPTH_DOMAIN} allowDataOverflow ticks={depthTicks} interval={0} width={Y_W}
            tickLine={false} tickSize={0} tickMargin={0} axisLine={axisLineStyle} tick={depthTick(P4[0], false)} />
          <ReferenceLine segment={[{ x: 0, y: 0 }, { x: 8.13, y: 0 }]} stroke="#000" strokeWidth={1.3} ifOverflow="visible" />
          {redMarkerDepth.map((d) => (
            <ReferenceLine key={'r' + d} segment={[{ x: 5.71, y: d }, { x: 9.18, y: d }]} stroke="#ff1a1a" strokeWidth={2} ifOverflow="visible" />
          ))}
          {epochNames.map((n, i) => (
            <ReferenceDot key={n} x={8.58} y={epochDepth[i]} r={0} fill="none" stroke="none" ifOverflow="visible"
              label={{ value: n, position: 'center', angle: -90, fontSize: 18, fontFamily: FONT, fill: '#000' }} />
          ))}
          <ReferenceDot x={6.66} y={cretaceousDepth} r={0} fill="none" stroke="none" ifOverflow="visible"
            label={{ value: 'Cretaceous', position: 'center', fontSize: 18, fontFamily: FONT, fill: '#000' }} />
          {seriesLines(kcSegs, '#000', 1)}
        </LineChart>
      </div>

      {/* Lith. unit */}
      <div style={layerStyle}>
        <LineChart width={CHART_W} height={CHART_H} data={lithRows} layout="vertical" margin={marginFor(P5[0], P5[1], 0)}>
          <XAxis type="number" orientation="top" domain={[0, 13.17]} reversed ticks={lithTicks} interval={0} allowDataOverflow height={AXIS_H}
            tickLine={false} tickSize={0} tickMargin={0} axisLine={axisLineStyle}
            tick={topTick(lithTicks, lithTickLabels, { 0: -9, 1: -2 }, true)}
            label={{ content: titleContent([{ text: 'Lith.', x: 1175, y: 26 }, { text: 'unit', x: 1174, y: 47 }]) }} />
          <YAxis type="number" dataKey="d" domain={DEPTH_DOMAIN} allowDataOverflow hide />
          {lithTop.map((t, i) => (
            <ReferenceArea key={'u' + i} y1={t} y2={lithBottom[i]} fill={lithColor[i]} fillOpacity={1} stroke="#000" strokeWidth={1.2} ifOverflow="hidden" />
          ))}
          {ashMarkX.map((x) => (
            <ReferenceDot key={'a' + x} x={x} y={ashMarkDepth} r={0} fill="none" stroke="none"
              label={{ value: 'v', position: 'center', fontSize: 10, fontFamily: FONT, fill: '#8a8a8a' }} />
          ))}
          {lithLabelText.map((t, i) => (
            <ReferenceDot key={'l' + t} x={6.58} y={lithLabelDepth[i]} r={0} fill="none" stroke="none"
              label={{ value: t, position: 'center', fontSize: 18, fontFamily: FONT, fill: '#000' }} />
          ))}
        </LineChart>
      </div>

      {/* Sum peak intensity area */}
      <div style={layerStyle}>
        <LineChart width={CHART_W} height={CHART_H} data={sumSegs.flat()} layout="vertical" margin={marginFor(P6[0], P6[1], 0)}>
          <XAxis type="number" orientation="top" domain={[196000, 1010000]} ticks={sumTicks} interval={0} allowDataOverflow height={AXIS_H}
            tickLine={false} tickSize={0} tickMargin={0} axisLine={axisLineStyle}
            tick={topTick(sumTicks, sumTickLabels, {}, true)}
            label={{ content: () => (
              <text x={1332} y={250} dy="0.35em" textAnchor="middle" transform="rotate(-90 1332 250)" fontSize={18} fontFamily={FONT} fill="#000">Sum peak intensity area</text>
            ) }} />
          <YAxis type="number" dataKey="d" domain={DEPTH_DOMAIN} allowDataOverflow hide />
          <ReferenceArea x1={196000} x2={1010000} fill="#c0c0c0" fillOpacity={1} stroke="none" />
          <ReferenceLine x={1010000} stroke="#000" strokeWidth={1.3} />
          {seriesLines(sumSegs, '#00008c', 1.1)}
        </LineChart>
      </div>
    </div>
  );
}
